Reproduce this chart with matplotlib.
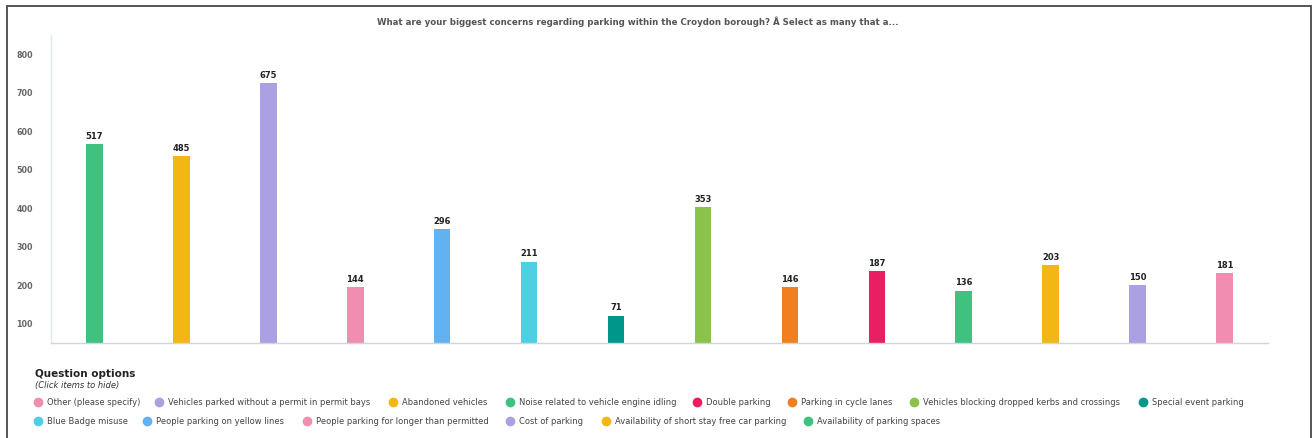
import matplotlib.pyplot as plt
from matplotlib.patches import Rectangle
from matplotlib.lines import Line2D

# bars, left to right
options = [
    "Availability of parking spaces",
    "Availability of short stay free car parking",
    "Cost of parking",
    "People parking for longer than permitted",
    "People parking on yellow lines",
    "Blue Badge misuse",
    "Special event parking",
    "Vehicles blocking dropped kerbs and crossings",
    "Parking in cycle lanes",
    "Double parking",
    "Noise related to vehicle engine idling",
    "Abandoned vehicles",
    "Vehicles parked without a permit in permit bays",
    "Other (please specify)",
]
counts = [517, 485, 675, 144, 296, 211, 71, 353, 146, 187, 136, 203, 150, 181]
colors = ["#3fc17f", "#f2b615", "#aba0e2", "#f28db2", "#62b2f1", "#4fd0e2",
          "#00968a", "#8bc34a", "#f17f1d", "#e91e63", "#3fc17f", "#f2b615",
          "#aba0e2", "#f28db2"]
yticks = [100, 200, 300, 400, 500, 600, 700, 800]

title = ("What are your biggest concerns regarding parking within the "
         "Croydon borough? \u00c2 Select as many that a...")

W, H = 1316, 439
fig = plt.figure(figsize=(W / 100, H / 100), dpi=100)


def fx(px):
    return px / W


def fy(py):
    return 1 - py / H


# outer frame (bottom edge runs off the page)
fig.patches.append(Rectangle((fx(7), fy(460)), fx(1311) - fx(7), fy(7) - fy(460),
                             transform=fig.transFigure, fill=False,
                             edgecolor="#555555", linewidth=1.4))

ax = fig.add_axes([fx(51), fy(344), fx(1268) - fx(51), fy(36) - fy(344)])
base = 48
x = range(len(counts))
bars = ax.bar(x, counts, bottom=base, width=0.19, color=colors)
for b, v in zip(bars, counts):
    ax.annotate(str(v), (b.get_x() + b.get_width() / 2, base + v),
                xytext=(0, 3), textcoords="offset points",
                ha="center", va="bottom", fontsize=6, fontweight="bold",
                color="#222222")

ax.set_xlim(-0.5, len(counts) - 0.5)
ax.set_ylim(base, 847)
ax.set_yticks(yticks)
ax.set_yticklabels([str(t) for t in yticks], fontsize=5.8, fontweight="bold",
                   color="#666666")
ax.tick_params(axis="y", length=0, pad=13)
ax.set_xticks([])
for s in ["top", "right"]:
    ax.spines[s].set_visible(False)
ax.spines["left"].set_color("#e3e8ee")
ax.spines["bottom"].set_color("#ccd6e0")
ax.spines["left"].set_linewidth(1.0)
ax.spines["bottom"].set_linewidth(1.0)

fig.text(fx(638), fy(22), title, ha="center", va="center", fontsize=6.2,
         fontweight="bold", color="#555555")

# legend block
fig.text(fx(35), fy(374), "Question options", ha="left", va="center",
         fontsize=7.5, fontweight="bold", color="#222222")
fig.text(fx(35), fy(386), "(Click items to hide)", ha="left", va="center",
         fontsize=6, style="italic", color="#333333")

legend_rows = [
    [(38, 13), (159, 12), (393, 11), (510, 10), (697, 9), (792, 8),
     (914, 7), (1143, 6)],
    [(38, 5), (147, 4), (307, 3), (510, 2), (606, 1), (808, 0)],
]
for row_y, row in zip([403, 422], legend_rows):
    for px, i in row:
        fig.lines.append(Line2D([fx(px)], [fy(row_y)], marker="o",
                                markersize=6, color=colors[i],
                                linestyle="none", transform=fig.transFigure))
        fig.text(fx(px + 9), fy(row_y), options[i], ha="left", va="center",
                 fontsize=6, color="#444444")

fig.savefig("out.png", dpi=100)
